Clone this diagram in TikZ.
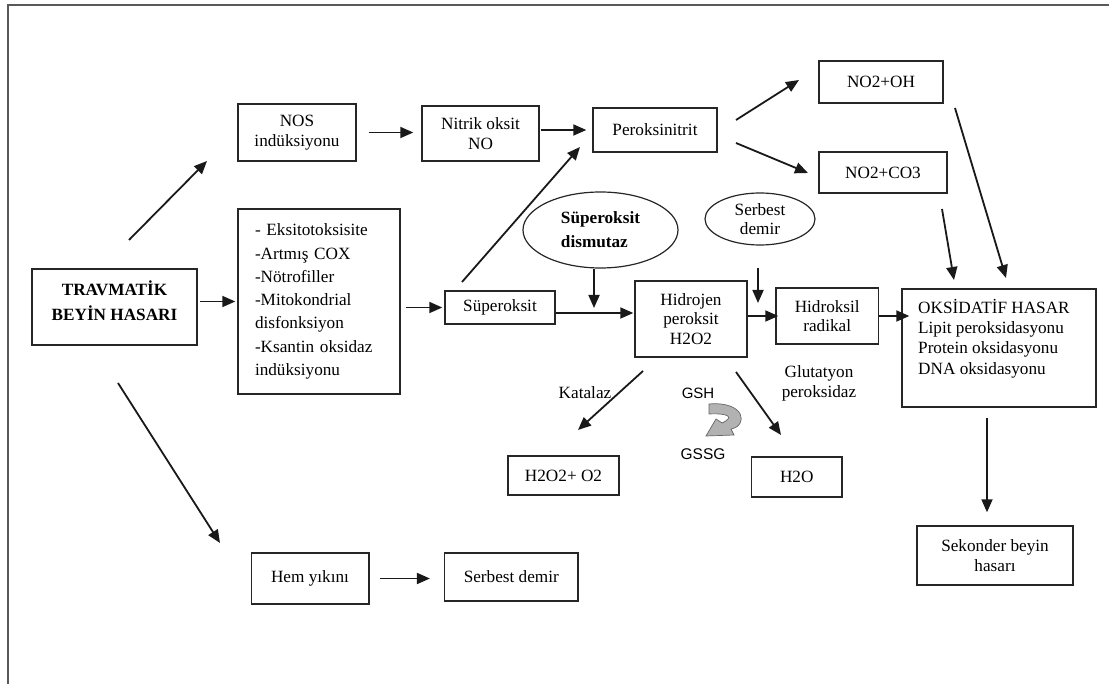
\documentclass[tikz,border=0pt]{standalone}
\usepackage{fontspec}
\setmainfont{Liberation Serif}
\newfontfamily\gsfont{Liberation Sans}
\usetikzlibrary{arrows.meta,shapes.geometric,calc}
\begin{document}
\begin{tikzpicture}[x=1pt,y=-1pt,
  font=\fontsize{17.2}{19.7}\selectfont,
  box/.style={draw=black!85, line width=1.4pt, rectangle, inner sep=2pt, align=center},
  oval/.style={draw=black!85, line width=1.2pt, ellipse, inner sep=0pt, align=center},
  arr/.style={draw=black!90, line width=1.8pt, -{Triangle[length=13pt,width=11pt]}},
  lbl/.style={inner sep=0pt, align=center}]

\useasboundingbox (0,0) rectangle (1109,684);
\draw[black!65, line width=2pt] (8,684) -- (8,5.5) -- (1109,5.5);

% boxes
\node[box, minimum width=165pt, minimum height=76pt] (tbh) at (114.5,307) {};
\node[lbl, font=\fontsize{17.2}{25}\selectfont\bfseries] (tbht) at (114.5,301) {TRAVMATİK\\BEYİN HASARI};
\node[box, minimum width=118pt, minimum height=57pt] (nos) at (297,132.5) {NOS\\indüksiyonu};
\node[box, minimum width=117pt, minimum height=55pt] (no) at (480.5,133.5) {Nitrik oksit\\NO};
\node[box, minimum width=124pt, minimum height=44pt] (perok) at (655,130) {Peroksinitrit};
\node[box, minimum width=124pt, minimum height=42pt] (nooh) at (881,82) {NO2+OH};
\node[box, minimum width=128pt, minimum height=41pt] (noco) at (883,172.5) {NO2+CO3};
\node[box, minimum width=162pt, minimum height=185pt, align=left, text width=128pt,
      font=\fontsize{17.2}{23.3}\selectfont] (eks) at (319,301.5)
  {- Eksitotoksisite\\-Artmış COX\\-Nötrofiller\\-Mitokondrial\\disfonksiyon\\-Ksantin oksidaz\\indüksiyonu};
\node[box, minimum width=110pt, minimum height=33pt] (sup) at (500,307.5) {Süperoksit};
\node[oval, minimum width=155pt, minimum height=76pt, align=left,
      font=\fontsize{17.2}{24}\selectfont\bfseries] (sod) at (600.5,230) {Süperoksit\\dismutaz};
\node[oval, minimum width=110pt, minimum height=52pt] (sdm) at (760,219) {Serbest\\demir};
\node[box, minimum width=112pt, minimum height=76pt] (hid) at (691,319) {Hidrojen\\peroksit\\H2O2};
\node[box, minimum width=102.5pt, minimum height=56pt] (hdx) at (827.25,316) {Hidroksil\\radikal};
\node[box, minimum width=194pt, minimum height=118pt] (oks) at (999,348) {};
\node[lbl, anchor=north west, align=left, font=\fontsize{17.2}{20.3}\selectfont] (okst) at (918,299)
  {OKSİDATİF HASAR\\Lipit peroksidasyonu\\Protein oksidasyonu\\DNA oksidasyonu};
\node[box, minimum width=111pt, minimum height=39pt] (hoo) at (563.5,475.5) {H2O2+ O2};
\node[box, minimum width=90.5pt, minimum height=40pt] (h2o) at (796.75,477) {H2O};
\node[box, minimum width=156pt, minimum height=59pt] (sek) at (995,555.5) {Sekonder beyin\\hasarı};
\node[box, minimum width=117.6pt, minimum height=51pt] (hem) at (310,578.5) {Hem yıkını};
\node[box, minimum width=133.4pt, minimum height=48pt] (sdb) at (511.3,577) {Serbest demir};

% labels
\node[lbl] (kat) at (585,393) {Katalaz};
\node[lbl, font=\fontsize{15}{17}\gsfont] (gsh) at (698,393) {GSH};
\node[lbl, font=\fontsize{15.5}{17}\gsfont] (gssg) at (703,454) {GSSG};
\node[lbl, font=\fontsize{17.2}{20}\selectfont] (glut) at (819,383) {Glutatyon\\peroksidaz};

% free ends
\coordinate (a1s) at (129,240);  \coordinate (a1e) at (207,161);
\coordinate (a2s) at (118,383);  \coordinate (a2e) at (220,543);
\coordinate (a3s) at (462,282);  \coordinate (a3e) at (580,147);
\coordinate (a4s) at (736,120);  \coordinate (a4e) at (799,80);
\coordinate (a5s) at (736,143);  \coordinate (a5e) at (808,173);
\coordinate (a6s) at (955,108);  \coordinate (a6e) at (1006,278);
\coordinate (a7s) at (942,209);  \coordinate (a7e) at (954,280);
\coordinate (a8s) at (643,371);  \coordinate (a8e) at (578,430);
\coordinate (a9s) at (736,372);  \coordinate (a9e) at (781,435);
\coordinate (sodend) at (594,308);
\coordinate (sdms) at (758,268); \coordinate (sdme) at (758,303);

% horizontal / vertical connectors
\draw[arr, shorten <=2.5pt, shorten >=2pt] (tbh.east |- eks.west) -- (eks.west);
\draw[arr, shorten <=12pt, shorten >=8pt] (nos.east) -- (nos.east -| no.west);
\draw[arr, shorten <=1pt, shorten >=6pt] (no.east |- perok.west) -- (perok.west);
\draw[arr, shorten <=5pt, shorten >=2pt] (eks.east |- sup.west) -- (sup.west);
\draw[arr, shorten >=1pt] ([yshift=-5.5pt]sup.east) -- ([yshift=-5.5pt]sup.east -| hid.west);
\draw[arr, shorten >=-3pt] (hid.east |- hdx.west) -- (hdx.west);
\draw[arr, shorten >=-8pt] (hdx.east) -- (hdx.east -| oks.west);
\draw[arr, shorten <=10pt, shorten >=14pt] (hem.east) -- (hem.east -| sdb.west);
\draw[arr, shorten <=10pt, shorten >=13pt] ([xshift=-12pt]oks.south) -- ([xshift=-12pt]oks.south |- sek.north);
\draw[arr] ([xshift=-6.5pt]sod.south) -- (sodend);
\draw[arr] (sdms) -- (sdme);

% diagonal connectors
\draw[arr] (a1s) -- (a1e);
\draw[arr] (a2s) -- (a2e);
\draw[arr] (a3s) -- (a3e);
\draw[arr] (a4s) -- (a4e);
\draw[arr] (a5s) -- (a5e);
\draw[arr] (a6s) -- (a6e);
\draw[arr] (a7s) -- (a7e);
\draw[arr] (a8s) -- (a8e);
\draw[arr] (a9s) -- (a9e);

% curved gray arrow (GSH -> GSSG)
\filldraw[fill=black!30, draw=black!60, line width=0.7pt]
  (709,404) .. controls (746,401) and (748,426) .. (731,429)
  -- (734,435) -- (706,436) -- (716,419) -- (722,423)
  .. controls (735,417) and (728,413) .. (709,414) -- cycle;
\end{tikzpicture}
\end{document}
